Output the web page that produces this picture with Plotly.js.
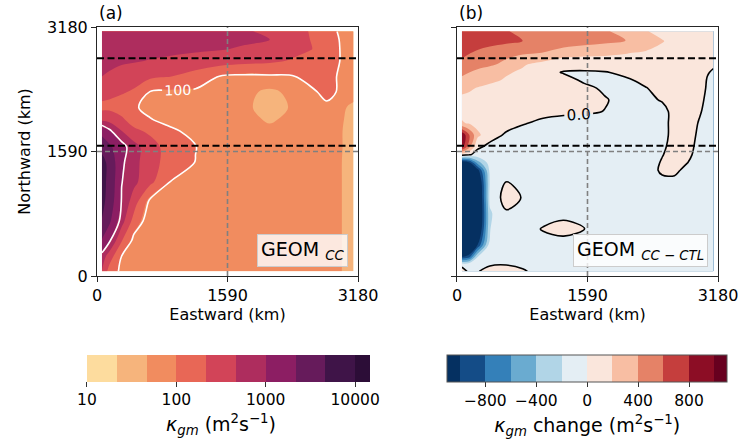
<!DOCTYPE html>
<html>
<head>
<meta charset="utf-8">
<script src="https://cdn.plot.ly/plotly-3.0.1.min.js"></script>
<style>html,body{margin:0;padding:0;background:#fff;}#chart{width:740px;height:443px;}</style>
</head>
<body>
<div id="chart"></div>
<script>
// ---------- data ----------
// Panel (a): log10 of kappa_gm (m^2 s^-1), rows = northward, columns = eastward (km)
const X_A = [60, 150, 300, 450, 650, 900, 1200, 1500, 1800, 2100, 2400, 2600, 2800, 2950, 3050, 3125];
const Y_A = [60, 250, 450, 700, 950, 1200, 1450, 1650, 1850, 2000, 2150, 2350, 2550, 2750, 2900, 3020, 3125];
const LOG_KAPPA = [
  [2.65, 2.2, 1.9, 1.8, 1.8, 1.8, 1.8, 1.8, 1.8, 1.8, 1.8, 1.8, 1.8, 1.7, 1.6, 1.58],
  [2.85, 2.5, 1.99, 1.8, 1.8, 1.8, 1.8, 1.8, 1.8, 1.8, 1.8, 1.8, 1.8, 1.7, 1.6, 1.58],
  [3.3, 3.03, 2.35, 1.85, 1.8, 1.8, 1.8, 1.8, 1.8, 1.8, 1.8, 1.8, 1.8, 1.7, 1.6, 1.58],
  [3.65, 3.4, 2.8, 2.2, 1.72, 1.8, 1.8, 1.8, 1.8, 1.8, 1.8, 1.8, 1.8, 1.7, 1.6, 1.58],
  [3.75, 3.55, 2.97, 2.5, 1.85, 1.8, 1.8, 1.8, 1.8, 1.8, 1.8, 1.8, 1.8, 1.7, 1.6, 1.58],
  [3.75, 3.6, 3.01, 2.75, 2.41, 1.98, 1.8, 1.8, 1.8, 1.8, 1.8, 1.8, 1.8, 1.7, 1.6, 1.58],
  [3.75, 3.6, 3.05, 2.78, 2.45, 2.2, 1.99, 1.8, 1.8, 1.8, 1.8, 1.8, 1.8, 1.7, 1.6, 1.58],
  [3.6, 3.4, 3.1, 2.8, 2.45, 2.2, 2.01, 1.8, 1.8, 1.8, 1.8, 1.8, 1.8, 1.7, 1.62, 1.6],
  [3.2, 3.05, 2.68, 2.4, 2.28, 2.08, 1.82, 1.8, 1.78, 1.75, 1.78, 1.8, 1.8, 1.7, 1.62, 1.6],
  [2.6, 2.55, 2.38, 2.2, 2.02, 1.8, 1.8, 1.8, 1.78, 1.62, 1.76, 1.8, 1.82, 1.72, 1.63, 1.6],
  [2.25, 2.26, 2.2, 2.05, 1.85, 1.8, 1.8, 1.8, 1.75, 1.5, 1.72, 1.85, 1.93, 1.78, 1.65, 1.62],
  [2.45, 2.4, 2.36, 2.3, 1.97, 1.94, 1.93, 1.85, 1.75, 1.6, 1.75, 1.93, 2.08, 1.97, 1.85, 1.75],
  [2.67, 2.6, 2.5, 2.45, 2.4, 2.34, 2.2, 1.98, 1.9, 1.93, 1.99, 2.1, 2.1, 1.97, 1.85, 1.8],
  [2.85, 2.8, 2.73, 2.7, 2.65, 2.6, 2.55, 2.5, 2.45, 2.4, 2.3, 2.2, 2.12, 2.01, 1.88, 1.82],
  [2.9, 2.88, 2.85, 2.82, 2.8, 2.76, 2.72, 2.69, 2.63, 2.52, 2.42, 2.35, 2.2, 2.01, 1.88, 1.82],
  [2.9, 2.9, 2.88, 2.87, 2.85, 2.82, 2.78, 2.75, 2.72, 2.67, 2.45, 2.33, 2.2, 2.0, 1.87, 1.82],
  [2.88, 2.88, 2.87, 2.86, 2.84, 2.81, 2.77, 2.73, 2.7, 2.6, 2.42, 2.32, 2.12, 1.97, 1.86, 1.8]
];

// Panel (b): kappa_gm change (m^2 s^-1)
const X_B = [60, 150, 250, 400, 600, 800, 1050, 1300, 1550, 1800, 2050, 2300, 2500, 2650, 2800, 2950, 3050, 3125];
const Y_B = [60, 150, 250, 400, 600, 800, 1000, 1200, 1350, 1450, 1550, 1650, 1800, 1950, 2100, 2250, 2400, 2500, 2600, 2700, 2850, 3000, 3125];
const KAPPA_CHANGE = [
  [180, -80, -5, 30, 40, 12, -40, -60, -60, -60, -60, -60, -60, -60, -60, -60, -60, -60],
  [-120, -80, -40, -10, -5, -20, -50, -60, -60, -60, -60, -60, -60, -60, -60, -60, -60, -60],
  [-1050, -900, -210, -60, -50, -50, -60, -60, -60, -60, -60, -60, -60, -60, -60, -60, -60, -60],
  [-1800, -1500, -1020, -100, -60, -60, -60, -60, -60, -60, -60, -60, -60, -60, -60, -60, -60, -60],
  [-2000, -2000, -1400, -210, -60, -60, 10, 50, 5, -60, -60, -60, -60, -60, -60, -60, -60, -60],
  [-2000, -2000, -1500, -230, -25, -60, -60, -40, -60, -60, -60, -60, -60, -60, -60, -60, -60, -60],
  [-2000, -2000, -1500, -150, 80, -10, -60, -60, -60, -60, -60, -60, -60, -60, -60, -60, -60, -60],
  [-2000, -2000, -1400, -180, 5, -40, -60, -60, -60, -60, -60, -60, -30, -30, -60, -60, -60, -60],
  [-1800, -1700, -1100, -150, -50, -60, -60, -60, -60, -60, -60, -60, 20, 25, -30, -60, -60, -60],
  [-1200, -1020, -500, -100, -50, -60, -60, -60, -60, -60, -60, -60, 10, 40, 5, -50, -60, -60],
  [100, 20, -60, -60, -60, -60, -60, -60, -60, -60, -60, -60, -5, 40, 30, -40, -60, -60],
  [900, 450, 30, -40, -60, -60, -60, -60, -60, -60, -60, -60, -20, 40, 40, -30, -60, -60],
  [980, 600, 250, 60, -20, -60, -60, -60, -60, -60, -60, -60, -30, 30, 40, -15, -60, -60],
  [220, 180, 130, 100, 50, 10, -30, -60, -60, -60, -60, -50, -40, 40, 40, -5, -40, -50],
  [150, 130, 120, 100, 80, 60, 40, 30, 20, -3, -50, -50, -40, 40, 50, 8, -20, -40],
  [150, 140, 120, 100, 80, 60, 50, 40, 40, 10, -40, -30, 10, 50, 60, 20, -15, -40],
  [260, 230, 190, 150, 110, 90, 70, 50, 30, -20, -40, -5, 40, 70, 70, 20, -5, -30],
  [370, 330, 290, 240, 180, 140, 100, 50, -20, -40, -20, 30, 80, 100, 90, 40, -5, -20],
  [430, 400, 350, 290, 220, 170, 50, -10, -20, -10, 30, 70, 100, 110, 100, 60, 5, -10],
  [550, 510, 470, 430, 350, 220, 130, 60, 70, 90, 110, 130, 140, 130, 110, 80, 40, 10],
  [640, 610, 570, 520, 460, 430, 395, 300, 260, 240, 210, 180, 150, 120, 90, 70, 50, 40],
  [720, 710, 690, 670, 640, 600, 560, 520, 480, 440, 405, 300, 210, 150, 110, 80, 60, 50],
  [700, 690, 680, 650, 610, 560, 510, 470, 440, 410, 370, 210, 150, 120, 100, 80, 60, 50]
];

// contour levels and tick labels
const LEVELS_A = {start: 1, end: 4, size: 1 / 3};          // log10 levels 10 .. 10000
const LINES_A = [100, 1000];                                // labelled white contours
const TICKVALS_A = [1, 2, 3, 4];
const TICKTEXT_A = ['10', '100', '1000', '10000'];
const LEVELS_B = {start: -1000, end: 1000, size: 200};
const TICKVALS_B = [-800, -400, 0, 400, 800];
const TICKTEXT_B = ['\u2212800', '\u2212400', '0', '400', '800'];

const AXIS_TICKS = [0, 1590, 3180];
const BLACK_LINES = [2780, 1664];   // northward positions of black dashed lines (km)
const GREY_LINE = 1590;             // grey dashed cross-hair (km)

// colours
const COLORS_A = ['#fddc9e', '#f6b47c', '#f18c5f', '#e86756', '#d24458', '#ae2d5e', '#8c1e63', '#661b5b', '#3f1448'];
const EXT_A = '#2c0d37';
const COLORS_B = ['#144c87', '#3480b9', '#6aabd0', '#b1d5e7', '#e4eef4', '#fae6dc', '#f8bea3', '#e58267', '#c53e3d', '#8c0d25'];
const EXT_B_LOW = '#053061', EXT_B_HIGH = '#67001f';

// ---------- build ----------
function bandScale(colors, low, high) {
  const n = colors.length + 1;
  const cs = [[0, low]];
  colors.forEach((c, i) => cs.push([(i + 1) / n, c]));
  cs.push([1, high]);
  return cs;
}
const FONT = 'DejaVu Sans, Liberation Sans, sans-serif';
const KAPPA = LOG_KAPPA.map(r => r.map(v => Math.pow(10, v)));

const traces = [
  {
    type: 'contour', x: X_A, y: Y_A, z: LOG_KAPPA, xaxis: 'x', yaxis: 'y',
    autocontour: false, contours: {start: LEVELS_A.start, end: LEVELS_A.end, size: LEVELS_A.size, coloring: 'fill', showlines: false},
    line: {width: 0}, colorscale: bandScale(COLORS_A, '#ffffff', EXT_A), hoverinfo: 'skip',
    colorbar: {
      orientation: 'h', x: 0.1997, xanchor: 'center', y: -0.3173, yanchor: 'top',
      len: 297.8, lenmode: 'pixels', thickness: 26.5, thicknessmode: 'pixels', xpad: 0, ypad: 0,
      outlinewidth: 0, tickmode: 'array', tickvals: TICKVALS_A, ticktext: TICKTEXT_A,
      ticks: 'outside', ticklen: 5, tickcolor: '#333', tickfont: {family: FONT, size: 15.5, color: '#000'},
      title: {text: '<i>\u03ba</i><sub><i>gm</i></sub> (m<sup>2</sup>s<sup>\u22121</sup>)', side: 'bottom', font: {family: FONT, size: 19, color: '#000'}}
    }
  },
  {
    type: 'contour', x: X_A, y: Y_A, z: KAPPA, xaxis: 'x', yaxis: 'y', showscale: false,
    autocontour: false, contours: {start: LINES_A[0], end: LINES_A[1], size: LINES_A[1] - LINES_A[0], coloring: 'none', showlabels: true,
      labelfont: {family: FONT, size: 14, color: '#ffffff'}},
    line: {color: '#ffffff', width: 1.6}, hoverinfo: 'skip'
  },
  {
    type: 'contour', x: X_B, y: Y_B, z: KAPPA_CHANGE, xaxis: 'x2', yaxis: 'y2',
    autocontour: false, contours: {start: LEVELS_B.start, end: LEVELS_B.end, size: LEVELS_B.size, coloring: 'fill', showlines: false},
    line: {width: 0}, colorscale: bandScale(COLORS_B, EXT_B_LOW, EXT_B_HIGH), hoverinfo: 'skip',
    colorbar: {
      orientation: 'h', x: 0.7894, xanchor: 'center', y: -0.3173, yanchor: 'top',
      len: 279.7, lenmode: 'pixels', thickness: 26.5, thicknessmode: 'pixels', xpad: 0, ypad: 0,
      outlinewidth: 1, outlinecolor: '#555', tickmode: 'array', tickvals: TICKVALS_B, ticktext: TICKTEXT_B,
      ticks: 'outside', ticklen: 5, tickcolor: '#333', tickfont: {family: FONT, size: 15.5, color: '#000'},
      title: {text: '<i>\u03ba</i><sub><i>gm</i></sub> change (m<sup>2</sup>s<sup>\u22121</sup>)', side: 'bottom', font: {family: FONT, size: 19, color: '#000'}}
    }
  },
  {
    type: 'contour', x: X_B, y: Y_B, z: KAPPA_CHANGE, xaxis: 'x2', yaxis: 'y2', showscale: false,
    autocontour: false, contours: {start: 0, end: 0, size: 100, coloring: 'none', showlabels: true, labelformat: '.1f',
      labelfont: {family: FONT, size: 15, color: '#000'}},
    line: {color: '#000', width: 1.6}, hoverinfo: 'skip'
  }
];

function axis(extra) {
  return Object.assign({
    range: [0, 3180], tickmode: 'array', tickvals: AXIS_TICKS, ticktext: AXIS_TICKS.map(String),
    ticks: 'outside', ticklen: 5, tickwidth: 1, tickcolor: '#262626',
    showline: true, mirror: true, linecolor: '#262626', linewidth: 1,
    showgrid: false, zeroline: false, automargin: false,
    tickfont: {family: FONT, size: 16, color: '#000'}
  }, extra);
}

const shapes = [];
[['x', 'y'], ['x2', 'y2']].forEach(([xr, yr]) => {
  shapes.push({type: 'line', xref: xr, yref: yr, x0: GREY_LINE, x1: GREY_LINE, y0: 0, y1: 3180, line: {color: '#808080', width: 1.6, dash: '5px,3px'}});
  shapes.push({type: 'line', xref: xr, yref: yr, x0: 0, x1: 3180, y0: GREY_LINE, y1: GREY_LINE, line: {color: '#808080', width: 1.6, dash: '5px,3px'}});
  BLACK_LINES.forEach(v => shapes.push({type: 'line', xref: xr, yref: yr, x0: 0, x1: 3180, y0: v, y1: v, line: {color: '#000', width: 2, dash: '7px,3.5px'}}));
});

const annotations = [
  {xref: 'x domain', yref: 'y domain', x: 0, y: 1.01, xanchor: 'left', yanchor: 'bottom', showarrow: false, text: '(a)', font: {family: FONT, size: 17, color: '#000'}},
  {xref: 'x2 domain', yref: 'y2 domain', x: 0, y: 1.01, xanchor: 'left', yanchor: 'bottom', showarrow: false, text: '(b)', font: {family: FONT, size: 17, color: '#000'}},
  {xref: 'x domain', yref: 'y domain', x: 0.963, y: 0.035, xanchor: 'right', yanchor: 'bottom', showarrow: false,
   text: 'GEOM <sub><i>CC</i></sub>', font: {family: FONT, size: 19, color: '#000'},
   bgcolor: 'rgba(255,255,255,0.8)', bordercolor: '#cccccc', borderwidth: 1, borderpad: 3},
  {xref: 'x2 domain', yref: 'y2 domain', x: 0.962, y: 0.035, xanchor: 'right', yanchor: 'bottom', showarrow: false,
   text: 'GEOM <sub><i>CC \u2212 CTL</i></sub>', font: {family: FONT, size: 19, color: '#000'},
   bgcolor: 'rgba(255,255,255,0.8)', bordercolor: '#cccccc', borderwidth: 1, borderpad: 3}
];

const layout = {
  width: 740, height: 443, autosize: false,
  margin: {l: 97, r: 22, t: 27, b: 167, autoexpand: false},
  paper_bgcolor: '#fff', plot_bgcolor: '#fff', showlegend: false,
  font: {family: FONT, color: '#000'},
  xaxis: axis({domain: [0, 0.4203], anchor: 'y', title: {text: 'Eastward (km)', standoff: 2, font: {family: FONT, size: 16}}}),
  yaxis: axis({domain: [0, 1], anchor: 'x', title: {text: 'Northward (km)', standoff: 12, font: {family: FONT, size: 16}}}),
  xaxis2: axis({domain: [0.5797, 1], anchor: 'y2', title: {text: 'Eastward (km)', standoff: 2, font: {family: FONT, size: 16}}}),
  yaxis2: axis({domain: [0, 1], anchor: 'x2', showticklabels: false}),
  shapes: shapes, annotations: annotations
};

Plotly.newPlot('chart', traces, layout, {staticPlot: true, displayModeBar: false});
</script>
</body>
</html>
